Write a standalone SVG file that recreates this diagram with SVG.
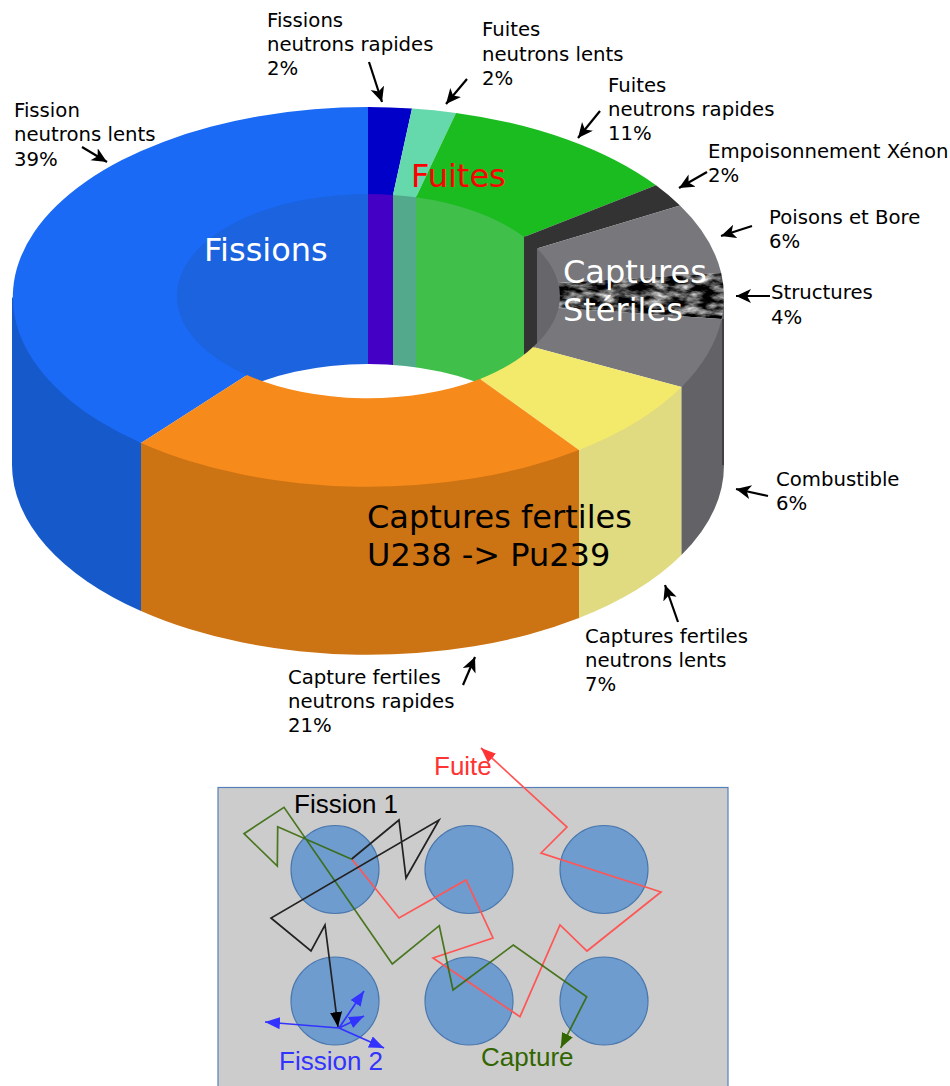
<svg xmlns="http://www.w3.org/2000/svg" width="950" height="1086" viewBox="0 0 950 1086">
<style>
text{font-family:"DejaVu Sans",sans-serif}
.l{font-size:19.700px;fill:#000}
.b{font-size:32px}
.s{font-family:"Liberation Sans",Arial,sans-serif;font-size:26px}
.a{stroke:#000;stroke-width:2.2;fill:none;marker-end:url(#ah)}
.p{fill:none;stroke-width:1.700;stroke-linejoin:miter}
.c{fill:#6f9ccf;stroke:#4a77ad;stroke-width:1.200}
</style>
<defs>
<marker id="ah" markerUnits="userSpaceOnUse" markerWidth="18" markerHeight="16" refX="15" refY="7" orient="auto"><path d="M15 7L0 0L4 7L0 14Z" fill="#000"/></marker>
<marker id="mk" markerUnits="userSpaceOnUse" markerWidth="18" markerHeight="14" refX="15" refY="6" orient="auto"><path d="M15 6L0 0V12Z" fill="#000"/></marker>
<marker id="mb" markerUnits="userSpaceOnUse" markerWidth="18" markerHeight="14" refX="15" refY="6" orient="auto"><path d="M15 6L0 0V12Z" fill="#3333ff"/></marker>
<marker id="mg" markerUnits="userSpaceOnUse" markerWidth="18" markerHeight="14" refX="15" refY="6" orient="auto"><path d="M15 6L0 0V12Z" fill="#336600"/></marker>
<marker id="mr" markerUnits="userSpaceOnUse" markerWidth="18" markerHeight="14" refX="15" refY="6" orient="auto"><path d="M15 6L0 0V12Z" fill="#ff3333"/></marker>
<clipPath id="hole"><ellipse cx="368" cy="296" rx="192.500" ry="103.500"/></clipPath>
<clipPath id="st"><path d="M721.200 273A356 190 0 0 1 721.600 319L558.600 308A191 102 0 0 0 558.400 283Z"/></clipPath>
<filter id="tx" x="0" y="0" width="100%" height="100%" color-interpolation-filters="sRGB"><feTurbulence type="fractalNoise" baseFrequency="0.06 0.13" numOctaves="4" seed="7"/><feColorMatrix type="matrix" values="1.9 0 0 0 -0.68 1.9 0 0 0 -0.68 1.9 0 0 0 -0.68 0 0 0 0 1"/></filter>
</defs>
<rect width="950" height="1086" fill="#fff"/>
<g id="anneau-parois-internes" clip-path="url(#hole)">
<rect x="170" y="190" width="198" height="215" fill="#1b63df"/>
<rect x="368" y="190" width="25" height="215" fill="#4400c4"/>
<rect x="393" y="190" width="23" height="215" fill="#52a98c"/>
<rect x="416" y="190" width="108" height="215" fill="#40bf4a"/>
<rect x="524" y="190" width="13" height="215" fill="#333"/>
<rect x="537" y="190" width="30" height="215" fill="#66666b"/>
<ellipse cx="368" cy="466" rx="191" ry="102" fill="#fff"/>
</g>
<g id="parois-externes">
<path d="M12 297L141 443V611A356 190 0 0 1 12 465Z" fill="#1559cb"/>
<path d="M141 443L579 450V618A356 190 0 0 1 141 611Z" fill="#cc7314"/>
<path d="M579 450L681.500 387V555A356 190 0 0 1 579 618Z" fill="#e0da80"/>
<path d="M681.500 387L721.600 319L724 297V465A356 190 0 0 1 681.500 555Z" fill="#636367"/>
<path d="M723 319V465" stroke="#3a3034" stroke-width="1.500" fill="none"/>
</g>
<g id="fission-lents"><path d="M368 107A356 190 0 0 0 141 443L247 375A191 102 0 0 1 368 194Z" fill="#1a6af5"/></g>
<g id="fissions-rapides"><path d="M368 107A356 190 0 0 1 412 108.500L393 195A191 102 0 0 0 368 194Z" fill="#0000c8"/></g>
<g id="fuites-lents"><path d="M412 108.500A356 190 0 0 1 456 112.900L416 197.300A191 102 0 0 0 393 195Z" fill="#66d9ac"/></g>
<g id="fuites-rapides"><path d="M456 112.900A356 190 0 0 1 656 185.300L524 237A191 102 0 0 0 416 197.300Z" fill="#1abc20"/></g>
<g id="xenon"><path d="M656 185.300A356 190 0 0 1 680 205.500L537 248.500A191 102 0 0 0 524 237Z" fill="#333"/></g>
<g id="poisons"><path d="M680 205.500A356 190 0 0 1 721.200 273L558.400 283A191 102 0 0 0 537 248.500Z" fill="#77777c"/></g>
<g id="structures"><g clip-path="url(#st)"><rect x="555" y="270" width="172" height="52" filter="url(#tx)"/></g></g>
<g id="combustible"><path d="M721.600 319A356 190 0 0 1 681.500 387L533 347A191 102 0 0 0 558.600 308Z" fill="#77777c"/></g>
<g id="fertiles-lents"><path d="M681.500 387A356 190 0 0 1 579 450L480 379A191 102 0 0 0 533 347Z" fill="#f3e96b"/></g>
<g id="fertiles-rapides"><path d="M579 450A356 190 0 0 1 141 443L247 375A191 102 0 0 0 480 379Z" fill="#f68a1a"/></g>
<g id="titres">
<text class="b" x="204" y="261" fill="#fff">Fissions</text>
<text class="b" x="411" y="187" fill="#f00">Fuites</text>
<text class="b" x="563" y="283" fill="#fff">Captures</text>
<text class="b" x="563" y="321" fill="#fff">Stériles</text>
<text class="b" x="367" y="528" fill="#000">Captures fertiles</text>
<text class="b" x="367" y="566" fill="#000">U238 -&gt; Pu239</text>
</g>
<g id="etiquettes">
<text class="l" x="267" y="27">Fissions</text><text class="l" x="267" y="51">neutrons rapides</text><text class="l" x="267" y="75">2%</text>
<text class="l" x="482" y="36">Fuites</text><text class="l" x="482" y="61">neutrons lents</text><text class="l" x="482" y="85">2%</text>
<text class="l" x="608" y="92">Fuites</text><text class="l" x="608" y="116">neutrons rapides</text><text class="l" x="608" y="140">11%</text>
<text class="l" x="708" y="158">Empoisonnement Xénon</text><text class="l" x="708" y="182">2%</text>
<text class="l" x="769" y="224">Poisons et Bore</text><text class="l" x="769" y="248">6%</text>
<text class="l" x="771" y="299">Structures</text><text class="l" x="771" y="324">4%</text>
<text class="l" x="776" y="486">Combustible</text><text class="l" x="776" y="510">6%</text>
<text class="l" x="585" y="643">Captures fertiles</text><text class="l" x="585" y="667">neutrons lents</text><text class="l" x="585" y="691">7%</text>
<text class="l" x="288" y="684">Capture fertiles</text><text class="l" x="288" y="708">neutrons rapides</text><text class="l" x="288" y="732">21%</text>
<text class="l" x="14" y="117">Fission</text><text class="l" x="14" y="141">neutrons lents</text><text class="l" x="14" y="166">39%</text>
</g>
<g id="connecteurs-etiquettes">
<path class="a" d="M369 62L382 102"/>
<path class="a" d="M467 79L446 104"/>
<path class="a" d="M600 111L578 138"/>
<path class="a" d="M707 172L679 188"/>
<path class="a" d="M752 226L721 236"/>
<path class="a" d="M770 296L736 296"/>
<path class="a" d="M768 496L736 489"/>
<path class="a" d="M678 622L665 585"/>
<path class="a" d="M463 685L475 657"/>
<path class="a" d="M82 147L107 162"/>
</g>
<g id="boite"><rect x="218" y="787.500" width="510" height="310" fill="#ccc" stroke="#5580b8" stroke-width="1.200"/></g>
<g id="combustibles">
<circle class="c" cx="335" cy="869.500" r="44"/><circle class="c" cx="469" cy="869.500" r="44"/><circle class="c" cx="604" cy="869.500" r="44"/>
<circle class="c" cx="335" cy="1001" r="44"/><circle class="c" cx="469" cy="1001" r="44"/><circle class="c" cx="604" cy="1001" r="44"/>
</g>
<g id="trajectoires">
<path class="p" stroke="#ff5555" marker-end="url(#mr)" d="M351.700 859L399 918L466 880L493 938L433 958L520 1016.700L560 925L587 951L661 892L541 853L567 827L481 748"/>
<path class="p" stroke="#336600" stroke-opacity=".85" marker-end="url(#mg)" d="M351.700 859.300L277.700 826.700L277.300 866L244 833.700L284 807.300L392.300 964L439.300 925.700L453 990L513.300 945L586.700 996.700L560.700 1048"/>
<path class="p" stroke="#222" marker-end="url(#mk)" d="M351.700 859L399 820L406 878L439 820L271 918L311 951L325 925L338 1027"/>
<path class="p" stroke="#3333ff" marker-end="url(#mb)" d="M339 1028L265 1022"/>
<path class="p" stroke="#3333ff" marker-end="url(#mb)" d="M339 1028L384 1048"/>
<path class="p" stroke="#3333ff" marker-end="url(#mb)" d="M339 1028L364 991"/>
<path class="p" stroke="#3333ff" marker-end="url(#mb)" d="M339 1028L364 1016"/>
</g>
<g id="legendes">
<text class="s" x="294" y="813" fill="#000">Fission 1</text>
<text class="s" x="434" y="775" fill="#ff3333">Fuite</text>
<text class="s" x="279" y="1070" fill="#3333ff">Fission 2</text>
<text class="s" x="481" y="1066" fill="#336600">Capture</text>
</g>
</svg>
